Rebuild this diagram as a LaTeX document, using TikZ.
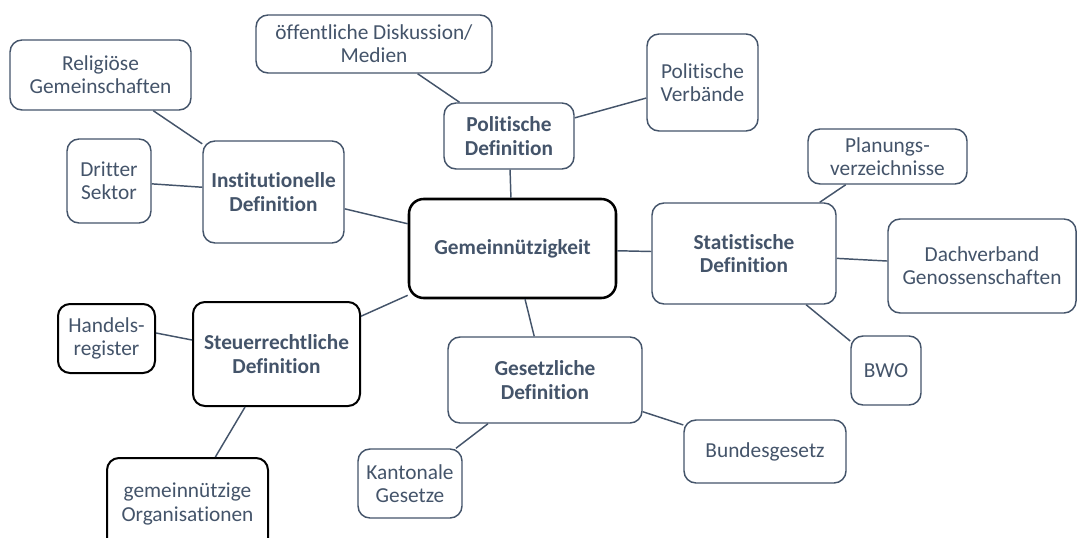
\documentclass[tikz,border=0pt]{standalone}
\usepackage{fontspec}
\setmainfont{Carlito}[Ligatures={NoCommon}]
\usetikzlibrary{calc}
\definecolor{slate}{HTML}{44546A}
\tikzset{
  box/.style={draw=slate, line width=1.1pt, rounded corners=9pt, fill=white,
    align=center, inner sep=0pt, text=slate,
    font=\fontsize{16}{17.5}\selectfont},
  main/.style={box, font=\fontsize{16}{17.5}\selectfont\bfseries},
  blackbox/.style={draw=black, line width=1.5pt},
  conn/.style={draw=slate, line width=1.1pt},
}
\begin{document}
\begin{tikzpicture}[x=0.75pt,y=-0.75pt]
\useasboundingbox (0,0) rectangle (1077,538);
\clip (0,0) rectangle (1077,538);
% nodes
\node[box, minimum width=181*0.75pt, minimum height=70*0.75pt] (rel) at (100.5,75) {Religiöse\\Gemeinschaften};
\node[box, minimum width=236*0.75pt, minimum height=58*0.75pt] (oef) at (374,44) {öffentliche Diskussion/\\Medien};
\node[box, minimum width=111*0.75pt, minimum height=97*0.75pt] (verb) at (702.5,82.5) {Politische\\Verbände};
\node[main, minimum width=130*0.75pt, minimum height=66*0.75pt] (pol) at (509,136) {Politische\\Definition};
\node[box, minimum width=84*0.75pt, minimum height=84*0.75pt] (drit) at (109,181) {Dritter\\Sektor};
\node[main, minimum width=141*0.75pt, minimum height=102*0.75pt] (inst) at (273.5,192) {Institutionelle\\Definition};
\node[box, minimum width=159*0.75pt, minimum height=55*0.75pt] (plan) at (887.5,156.5) {Planungs-\\verzeichnisse};
\node[main, draw=black, line width=1.9pt, rounded corners=11pt, minimum width=207*0.75pt, minimum height=99*0.75pt] (gem) at (512.5,248.5) {Gemeinnützigkeit};
\node[main, minimum width=184*0.75pt, minimum height=101*0.75pt] (stat) at (744,253.5) {Statistische\\Definition};
\node[box, minimum width=188*0.75pt, minimum height=94*0.75pt] (dach) at (982,266) {Dachverband\\Genossenschaften};
\node[box, minimum width=70*0.75pt, minimum height=69*0.75pt] (bwo) at (886,370.5) {BWO};
\node[box, blackbox, minimum width=97*0.75pt, minimum height=69*0.75pt] (hand) at (106.5,338.5) {Handels-\\register};
\node[main, blackbox, minimum width=167*0.75pt, minimum height=104*0.75pt] (steu) at (276.5,354) {Steuerrechtliche\\Definition};
\node[main, minimum width=194*0.75pt, minimum height=86*0.75pt] (ges) at (545,380) {Gesetzliche\\Definition};
\node[box, minimum width=162*0.75pt, minimum height=63*0.75pt] (bund) at (765,451.5) {Bundesgesetz};
\node[box, minimum width=104*0.75pt, minimum height=69*0.75pt] (kant) at (410,483.5) {Kantonale\\Gesetze};
\node[box, blackbox, minimum width=161*0.75pt, minimum height=92*0.75pt] (org) at (187.5,504) {gemeinnützige\\Organisationen};
% connectors
\draw[conn] (rel) -- (inst);
\draw[conn] (drit) -- (inst);
\draw[conn] (inst) -- (gem);
\draw[conn] (oef) -- (pol);
\draw[conn] (verb) -- (pol);
\draw[conn] (pol) -- (gem);
\draw[conn] (plan) -- (stat);
\draw[conn] (gem) -- (stat);
\draw[conn] (stat) -- (dach);
\draw[conn] (stat) -- (bwo);
\draw[conn] (gem) -- (ges);
\draw[conn] (gem) -- (steu);
\draw[conn] ($(hand.east)+(0,-5.5)$) -- ($(steu.west)+(0,-14)$);
\draw[conn] (steu) -- (org);
\draw[conn] (ges) -- (kant);
\draw[conn] (ges) -- (bund);
\end{tikzpicture}
\end{document}
